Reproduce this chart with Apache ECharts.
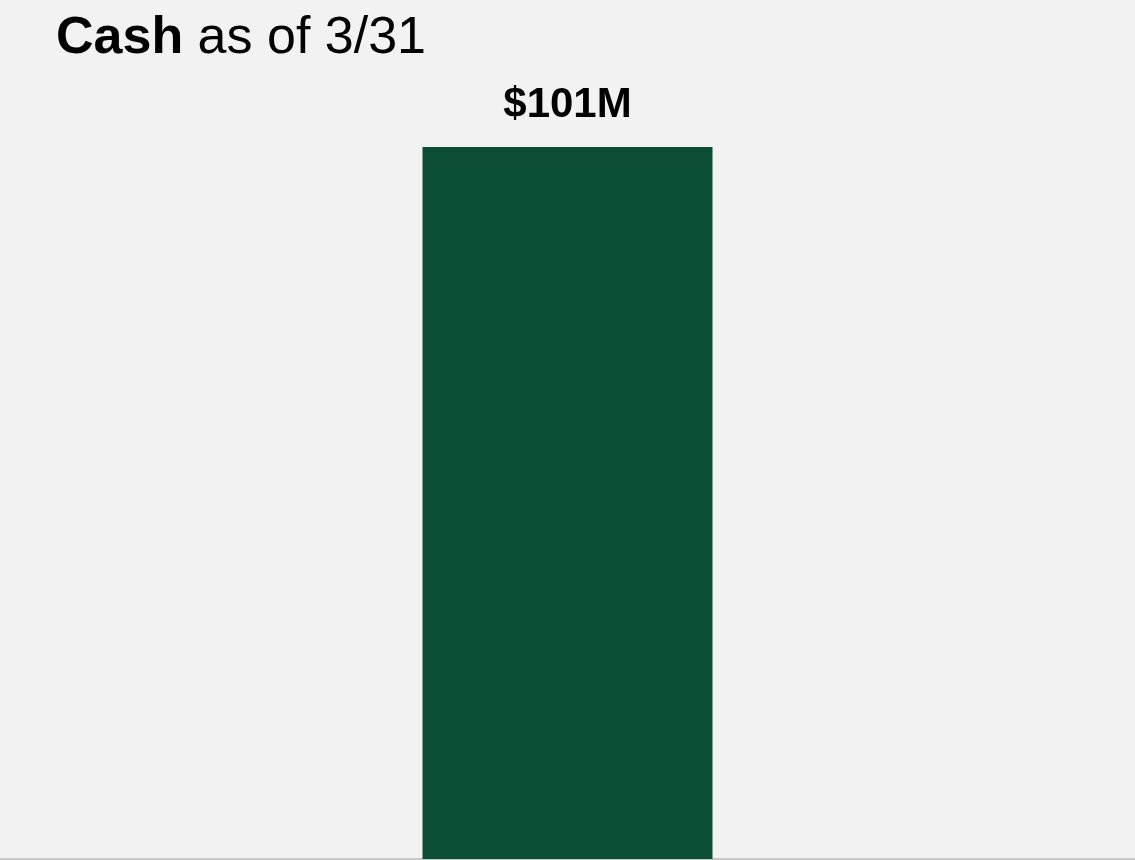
<!DOCTYPE html>
<html><head><meta charset="utf-8">
<script src="https://cdn.jsdelivr.net/npm/echarts@6/dist/echarts.min.js"></script>
<style>html,body{margin:0;padding:0;background:#f2f2f2}#c{width:1135px;height:860px}</style>
</head><body><div id="c"></div>
<script>
const categories = ['Cash as of 3/31'];
const values = [101];
const labels = ['$101M'];

const chart = echarts.init(document.getElementById('c'), null, {renderer:'canvas'});
chart.setOption({
  backgroundColor: '#f2f2f2',
  animation: false,
  title: {
    left: 51, top: 8,
    text: '{b|Cash}{n| as of 3/31}',
    textStyle: {
      rich: {
        b: {fontFamily: 'Liberation Sans, Arial', fontWeight: 'bold', fontSize: 52, color: '#000'},
        n: {fontFamily: 'Liberation Sans, Arial', fontWeight: 'normal', fontSize: 52, color: '#000'}
      }
    }
  },
  grid: {left: 0, right: 0, top: 147, bottom: 1},
  xAxis: {
    type: 'category', data: categories,
    axisLine: {show: true, lineStyle: {color: '#c8c8c8', width: 2}},
    axisTick: {show: false}, axisLabel: {show: false}
  },
  yAxis: {type: 'value', min: 0, max: 101, show: false, splitLine: {show: false}},
  series: [{
    type: 'bar', data: values, barWidth: 290,
    itemStyle: {color: '#0b4d35'},
    label: {
      show: true, position: 'top', distance: 21,
      formatter: p => labels[p.dataIndex],
      fontFamily: 'Liberation Sans, Arial', fontWeight: 'bold', fontSize: 42, color: '#000'
    }
  }]
});
</script></body></html>
